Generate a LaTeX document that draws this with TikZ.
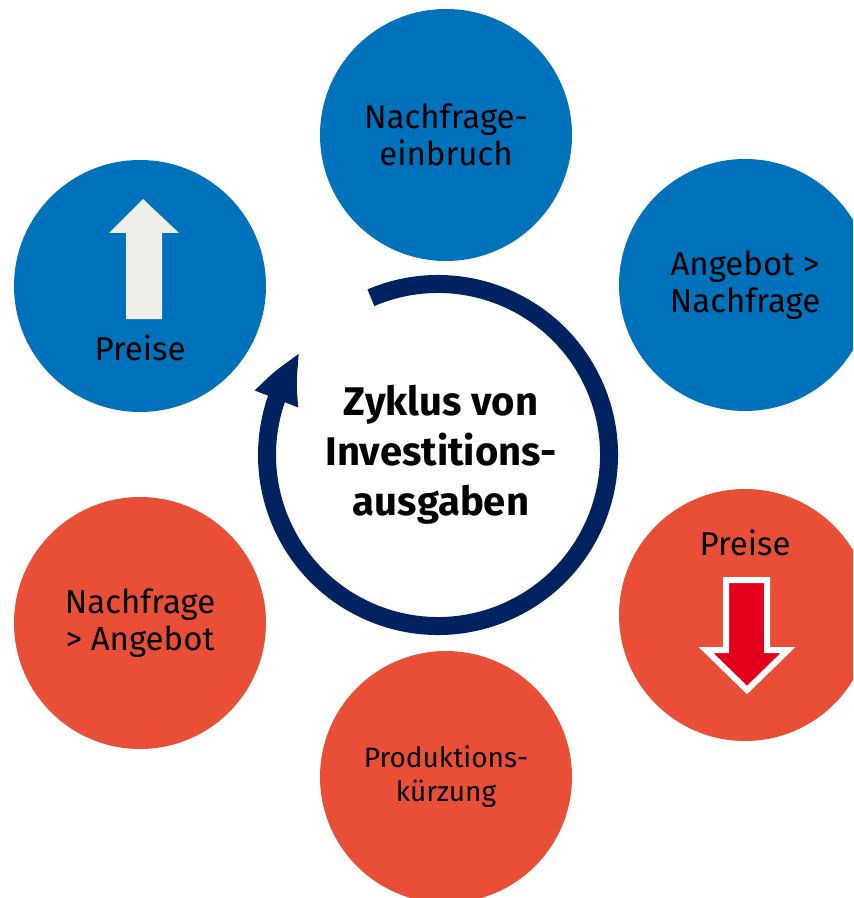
\documentclass[tikz,border=0pt]{standalone}
\usepackage{fontspec}
\setmainfont{Fira Sans}
\usetikzlibrary{arrows.meta,bending}

\begin{document}
\begin{tikzpicture}[x=0.75pt,y=0.75pt,yscale=-1,xscale=1,
  ball/.style={circle,inner sep=0pt,minimum size=189pt,align=center,font=\fontsize{24.75}{28}\selectfont},
  blueball/.style={ball,fill={rgb, 255:red, 0; green, 114; blue, 188 }},
  redball/.style={ball,fill={rgb, 255:red, 233; green, 79; blue, 55 }},
  txt/.style={font=\fontsize{24.75}{28}\selectfont,inner sep=0pt}
]
%set diagram frame 853 x 898
\clip (0,0) rectangle (853,898);

%Shape: Circle, blue
\node [blueball] (einbruch) at (446,135) {Nachfrage-\\einbruch};
\node [blueball] (angebot) at (745,285) {Angebot >\\Nachfrage};
\node [blueball] (preisup) at (140,286) {};
%Shape: Circle, red
\node [redball] (preisdown) at (745,615) {};
\node [redball] (nachfrage) at (140,623) {Nachfrage\\> Angebot};
\node [redball,font=\fontsize{21}{25.5}\selectfont] (kuerzung) at (446,777) {Produktions-\\kürzung};

%Shape: Up Arrow
\draw  [draw=none,fill={rgb, 255:red, 238; green, 237; blue, 232 }] (143,199) -- (179,233) -- (162,233) -- (162,319) -- (126,319) -- (126,233) -- (109,233) -- cycle ;
\node [txt,anchor=base] (preise1) at (140,360) {Preise};

%Shape: Down Arrow
\draw  [draw=white,line width=4.5pt,fill={rgb, 255:red, 226; green, 0; blue, 26 }] (726,580) -- (767,580) -- (767,650) -- (788,650) -- (747,690) -- (706,650) -- (726,650) -- cycle ;
\node [txt,anchor=base] (preise2) at (745,555) {Preise};

%Curve Lines, ring with arrow
\coordinate (cyc) at (438,455);
\draw [color={rgb, 255:red, 0; green, 34; blue, 96 },line width=13.5pt,-{Triangle[length=39.75pt,width=31.5pt,bend]}] ([shift={(-113.1:171)}]cyc) arc [start angle=-113.1, end angle=216.7, radius=171] ;

\node [align=center,font=\fontsize{30}{37.5}\selectfont\bfseries] (title) at (441,455) {Zyklus von\\Investitions-\\ausgaben};

\end{tikzpicture}
\end{document}
